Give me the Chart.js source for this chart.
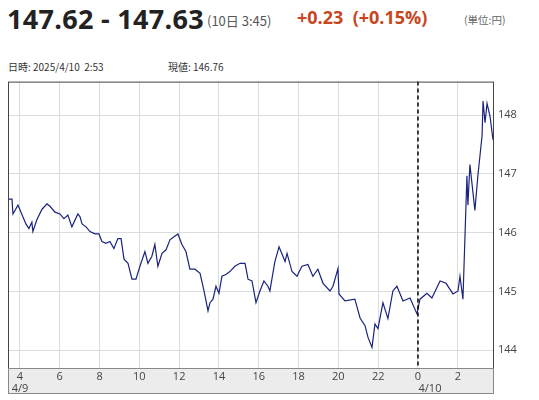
<!DOCTYPE html>
<html>
<head>
<meta charset="utf-8">
<script src="https://cdn.jsdelivr.net/npm/chart.js@4"></script>
<style>
  body { margin: 0; width: 539px; height: 400px; background: #fff; font-family: "Noto Sans CJK JP", "Open Sans", sans-serif; position: relative; overflow: hidden; }
  .price { position: absolute; left: 7px; top: 0px; font: bold 27px "Open Sans", sans-serif; color: #222; white-space: nowrap; letter-spacing: 0.3px; }
  .time { position: absolute; left: 207px; top: 11px; font-size: 13px; color: #555; }
  .chg { position: absolute; left: 297px; top: 5px; font: bold 18px "Open Sans", sans-serif; color: #c8461e; white-space: nowrap; }
  .unit { position: absolute; left: 464px; top: 12px; font-size: 10.5px; color: #666; }
  .info { position: absolute; top: 59px; font-size: 10px; color: #333; white-space: nowrap; }
  #wrap { position: absolute; left: 0; top: 70px; width: 539px; height: 330px; }
</style>
</head>
<body>
<div class="price">147.62 - 147.63</div>
<div class="time">(10日 3:45)</div>
<div class="chg">+0.23&nbsp;&nbsp;(+0.15%)</div>
<div class="unit">(単位:円)</div>
<div class="info" style="left:8px">日時: 2025/4/10&nbsp;&nbsp;2:53</div>
<div class="info" style="left:168px">現値: 146.76</div>
<div id="wrap"><canvas id="c"></canvas></div>
<script>
// hours since 4/9 00:00
const hours = [3.40,3.60,3.65,3.90,4.00,4.30,4.45,4.60,4.65,4.85,5.11,5.36,5.51,5.76,6.01,6.21,6.41,6.61,6.91,7.02,
  7.12,7.32,7.52,7.77,7.97,8.12,8.32,8.52,8.72,8.92,9.08,9.23,9.43,9.63,9.83,10.03,10.28,10.43,10.63,10.78,
  10.93,11.14,11.34,11.54,11.74,11.94,12.14,12.34,12.54,12.79,13.05,13.25,13.45,13.55,13.70,13.85,14.00,14.15,14.35,14.55,
  14.80,15.06,15.31,15.46,15.66,15.86,16.06,16.26,16.46,16.56,16.81,17.02,17.32,17.42,17.67,17.92,18.17,18.47,18.72,18.97,
  19.23,19.58,19.73,19.98,20.03,20.33,20.83,21.09,21.34,21.49,21.69,21.84,21.99,22.24,22.49,22.74,22.94,23.25,23.60,23.95,
  24.10,24.45,24.70,25.11,25.41,25.76,26.01,26.11,26.26,26.46,26.51,26.61,26.76,26.86,27.01,27.22,27.27,27.37,27.47,27.62,27.77];
const prices = [146.57,146.57,146.32,146.47,146.39,146.15,146.07,146.18,146.02,146.22,146.40,146.49,146.45,146.35,146.32,146.24,146.30,146.10,146.32,146.27,
  146.15,146.10,146.02,145.98,145.98,145.85,145.82,145.85,145.73,145.90,145.90,145.55,145.48,145.21,145.21,145.43,145.68,145.48,145.60,145.80,
  145.43,145.65,145.71,145.88,145.93,145.98,145.80,145.68,145.38,145.38,145.31,145.01,144.67,144.81,144.87,145.09,144.97,145.26,145.29,145.34,
  145.43,145.48,145.48,145.21,145.18,144.81,145.01,145.18,145.09,145.01,145.51,145.76,145.51,145.65,145.34,145.26,145.43,145.46,145.26,145.38,
  145.14,145.01,145.09,145.39,144.96,144.84,144.87,144.55,144.42,144.22,144.05,144.45,144.37,144.81,144.54,145.01,145.09,144.84,144.89,144.62,
  144.87,144.97,144.89,145.18,145.14,144.96,145.01,145.26,144.87,146.97,146.47,147.16,146.69,146.38,146.97,147.65,148.24,147.87,148.20,147.98,147.58];
const xTicks = [4, 6, 8, 10, 12, 14, 16, 18, 20, 22, 24, 26];
const yTicks = [144, 145, 146, 147, 148];
const dayLabels = [[4, '4/9'], [24, '4/10']];
const dayBreak = 24;

const frame = {
  id: 'frame',
  beforeDraw(chart) {
    const { ctx, chartArea: a } = chart;
    ctx.save();
    ctx.fillStyle = '#ececec';
    ctx.fillRect(a.left, a.bottom, a.right - a.left, 25);
    ctx.restore();
  },
  afterDraw(chart) {
    const { ctx, chartArea: a, scales: { x } } = chart;
    ctx.save();
    const bx = x.getPixelForValue(dayBreak);
    ctx.strokeStyle = '#000';
    ctx.lineWidth = 1.5;
    ctx.setLineDash([4, 3]);
    ctx.beginPath(); ctx.moveTo(bx, a.top); ctx.lineTo(bx, a.bottom); ctx.stroke();
    ctx.setLineDash([]);
    ctx.strokeStyle = '#444';
    ctx.lineWidth = 1;
    ctx.strokeRect(a.left + 0.5, a.top + 0.5, a.right - a.left, a.bottom - a.top);
    ctx.strokeStyle = '#888';
    ctx.strokeRect(a.left + 0.5, a.bottom + 0.5, a.right - a.left, 25);
    ctx.fillStyle = '#444';
    ctx.font = '11px "Open Sans", sans-serif';
    ctx.textAlign = 'center';
    dayLabels.forEach(([h, t]) => {
      const px = x.getPixelForValue(h) + (h === 24 ? 12 : 0);
      ctx.fillText(t, px, a.bottom + 24);
    });
    ctx.restore();
  }
};

new Chart(document.getElementById('c'), {
  type: 'line',
  data: {
    datasets: [{
      data: hours.map((h, i) => ({ x: h, y: prices[i] })),
      borderColor: '#1a237e',
      borderWidth: 1.2,
      pointRadius: 0,
      tension: 0,
    }],
  },
  options: {
    responsive: true,
    maintainAspectRatio: false,
    animation: false,
    layout: { padding: { left: 8, top: 8, bottom: 7, right: 0 } },
    plugins: { legend: { display: false }, tooltip: { enabled: false } },
    scales: {
      x: {
        type: 'linear',
        min: 3.4,
        max: 27.77,
        afterBuildTicks: (s) => { s.ticks = xTicks.map((v) => ({ value: v })); },
        afterFit: (s) => { s.height = 25; },
        ticks: {
          color: '#444',
          font: { family: "'Open Sans', sans-serif", size: 11 },
          padding: 2,
          maxRotation: 0,
          callback: (v) => String(v % 24),
        },
        grid: { color: '#dcdcdc', drawTicks: false },
        border: { display: false },
      },
      y: {
        position: 'right',
        min: 143.7,
        max: 148.57,
        afterBuildTicks: (s) => { s.ticks = yTicks.map((v) => ({ value: v })); },
        afterFit: (s) => { s.width = 46; },
        ticks: {
          color: '#444',
          font: { family: "'Open Sans', sans-serif", size: 11 },
          padding: 5,
        },
        grid: { color: '#dcdcdc', drawTicks: false },
        border: { display: false },
      },
    },
  },
  plugins: [frame],
});
</script>
</body>
</html>
